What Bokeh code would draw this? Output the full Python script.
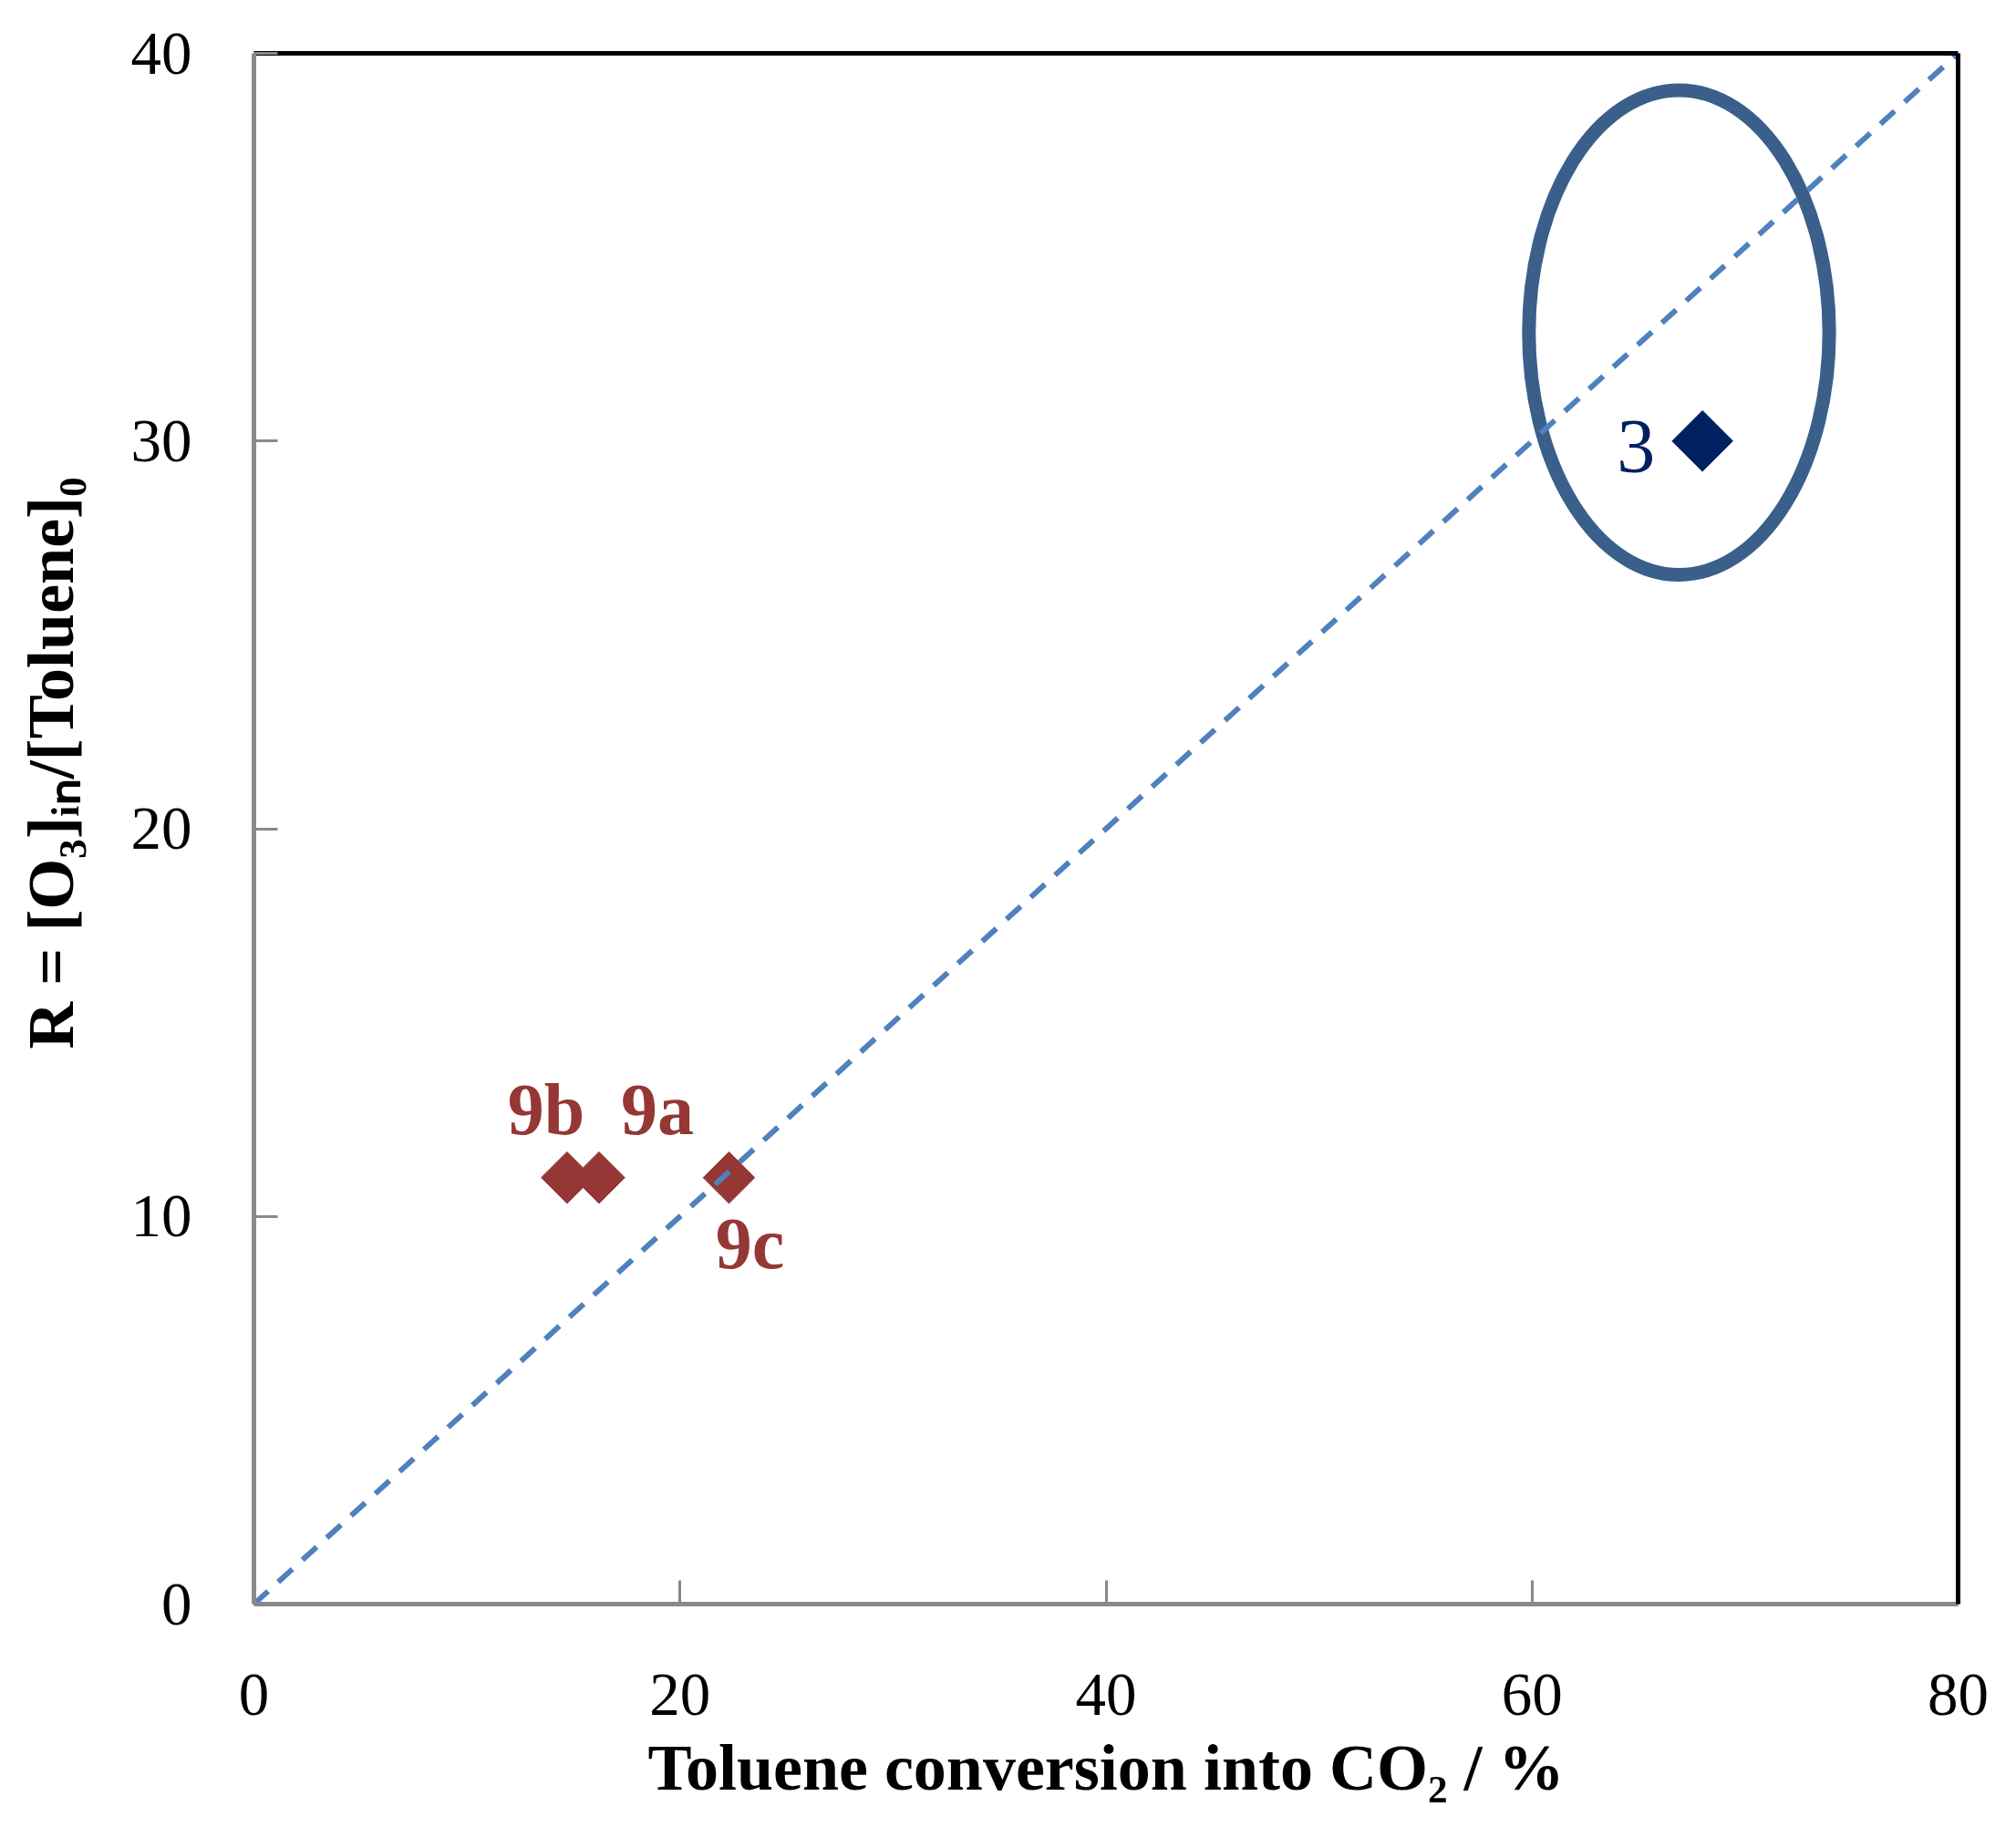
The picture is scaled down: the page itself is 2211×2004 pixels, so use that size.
import numpy as np
from bokeh.plotting import figure
from bokeh.models import LinearAxis, FixedTicker, Range1d, ColumnDataSource
from bokeh.embed import file_html
from bokeh.resources import INLINE
from bokeh.core.properties import value

# ---- data ----
red_names = ["9b", "9a", "9c"]
red_x = [14.7, 16.2, 22.3]          # toluene conversion into CO2 / %
red_y = [11, 11, 11]                # R = [O3]in/[Toluene]0

blue_names = ["3"]
blue_x = [68.0]
blue_y = [30]

diag_x = [0, 80]                    # dashed reference line
diag_y = [0, 40]

x_ticks = [0, 20, 40, 60, 80]
y_ticks = [0, 10, 20, 30, 40]

ellipse_center_x = 66.9
ellipse_center_y = 32.8
ellipse_w = 14.1
ellipse_h = 12.5

x_title = "Toluene conversion into CO₂ / %"
y_title = "R = [O₃]ᵢₙ/[Toluene]₀"

# ---- label offsets in screen pixels ----
red_dx = [-23, 64, 23]
red_dy = [-75, -75, 72]
blue_dx = [-73]
blue_dy = [6]

FONT = "Liberation Serif"
GRAY = "#898989"

p = figure(width=2203, height=1996, output_backend="svg", toolbar_location=None,
           x_range=Range1d(0, 80), y_range=Range1d(0, 40),
           x_axis_location=None, y_axis_location=None,
           min_border_left=278, min_border_right=56, min_border_top=58,
           min_border_bottom=237,
           background_fill_color="white", border_fill_color="white")
p.outline_line_color = None
p.grid.visible = False

# top and right black frame lines
for side in ("above", "right"):
    ax = LinearAxis(ticker=FixedTicker(ticks=[]), axis_line_color="black",
                    axis_line_width=5, major_tick_line_color=None,
                    minor_tick_line_color=None, major_label_text_font_size="0px")
    p.add_layout(ax, side)

xax = LinearAxis(ticker=FixedTicker(ticks=x_ticks))
yax = LinearAxis(ticker=FixedTicker(ticks=y_ticks))
for ax in (xax, yax):
    ax.axis_line_color = GRAY
    ax.axis_line_width = 5
    ax.major_tick_line_color = GRAY
    ax.major_tick_line_width = 3
    ax.major_tick_in = 26
    ax.major_tick_out = 0
    ax.minor_tick_line_color = None
    ax.major_label_text_font = FONT
    ax.major_label_text_font_size = "67px"
    ax.major_label_text_color = "black"
    ax.axis_label_text_font = FONT
    ax.axis_label_text_font_style = "bold"
    ax.axis_label_text_font_size = "72px"
    ax.axis_label_text_color = "black"

xax.major_label_standoff = 77
yax.major_label_standoff = 68
xax.axis_label_standoff = 15
yax.axis_label_standoff = 45
xax.axis_label = x_title
# leading no-break spaces lift the rotated title above the axis centre
yax.axis_label = "\u00a0" * 8 + y_title
p.add_layout(xax, "below")
p.add_layout(yax, "left")

# ellipse highlight
p.ellipse(x=[ellipse_center_x], y=[ellipse_center_y], width=[ellipse_w],
          height=[ellipse_h], fill_color=None, line_color="#3A5F8B", line_width=15)

# points
p.scatter(red_x, red_y, marker="square", size=40, angle=np.pi / 4,
          fill_color="#953735", line_color="#953735", line_width=1)
p.scatter(blue_x, blue_y, marker="square", size=47, angle=np.pi / 4,
          fill_color="#002060", line_color="#002060", line_width=1)

# dashed diagonal
p.line(diag_x, diag_y, line_color="#4F81BD", line_width=6, line_dash="21 15")

# labels
red_src = ColumnDataSource(dict(x=red_x, y=red_y, t=red_names, dx=red_dx, dy=red_dy))
p.text(x="x", y="y", text="t", x_offset="dx", y_offset="dy", source=red_src,
       text_font=value(FONT), text_font_style="bold", text_font_size="80px",
       text_color="#953735", text_align="center", text_baseline="middle")
blue_src = ColumnDataSource(dict(x=blue_x, y=blue_y, t=blue_names, dx=blue_dx, dy=blue_dy))
p.text(x="x", y="y", text="t", x_offset="dx", y_offset="dy", source=blue_src,
       text_font=value(FONT), text_font_size="84px",
       text_color="#002060", text_align="center", text_baseline="middle")

open("out.html", "w").write(file_html(p, INLINE))
